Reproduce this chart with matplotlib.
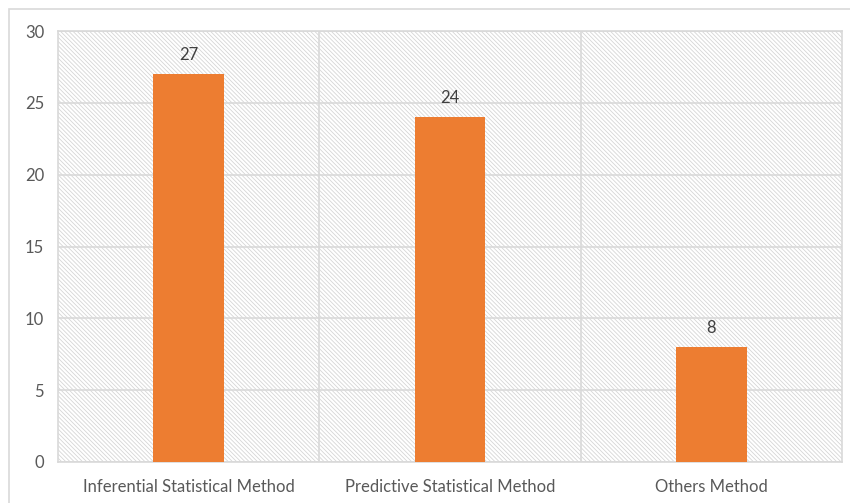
import matplotlib
matplotlib.use("Agg")
import matplotlib.pyplot as plt
from matplotlib.patches import Rectangle

categories = ["Inferential Statistical Method", "Predictive Statistical Method", "Others Method"]
values = [27, 24, 8]
yticks = [0, 5, 10, 15, 20, 25, 30]

plt.rcParams['font.family'] = ['Lato', 'DejaVu Sans']
plt.rcParams['hatch.linewidth'] = 0.6
plt.rcParams['hatch.color'] = '#d6d6d6'

W, H = 850, 503
fig = plt.figure(figsize=(W/100, H/100), dpi=100)
# outer chart border
fig.patches.append(Rectangle((9/W, -0.1), 1.2, 1 - 9/H + 0.1, transform=fig.transFigure,
                             fill=False, edgecolor='#d9d9d9', linewidth=1.2))

ax = fig.add_axes([58/W, 1 - 462/H, (842-58)/W, (462-31)/H])
ax.patch.set_visible(False)
ax.add_patch(Rectangle((0, 0), 1, 1, transform=ax.transAxes, facecolor='white',
                       edgecolor='#d6d6d6', hatch='\\' * 8, linewidth=0, zorder=0))

x = list(range(len(categories)))
bars = ax.bar(x, values, width=0.27, color='#ED7D31', zorder=3)
for xi, v in zip(x, values):
    ax.text(xi, v + 0.8, str(v), ha='center', va='bottom', fontsize=12, color='#404040')

ax.set_xlim(-0.5, len(categories) - 0.5)
ax.set_ylim(0, 30)
ax.set_yticks(yticks)
ax.set_xticks(x)
ax.set_xticklabels(categories)
for yv in yticks:
    ax.axhline(yv, color='#d9d9d9', linewidth=1.2, zorder=1)
for b in [0.5, 1.5]:
    ax.axvline(b, color='#d9d9d9', linewidth=1.2, zorder=1)
for s in ax.spines.values():
    s.set_color('#d9d9d9')
    s.set_linewidth(1.2)
ax.tick_params(axis='both', length=0, labelsize=12, colors='#595959')
ax.tick_params(axis='y', pad=10)
ax.tick_params(axis='x', pad=12)

fig.savefig("out.png", dpi=100)
